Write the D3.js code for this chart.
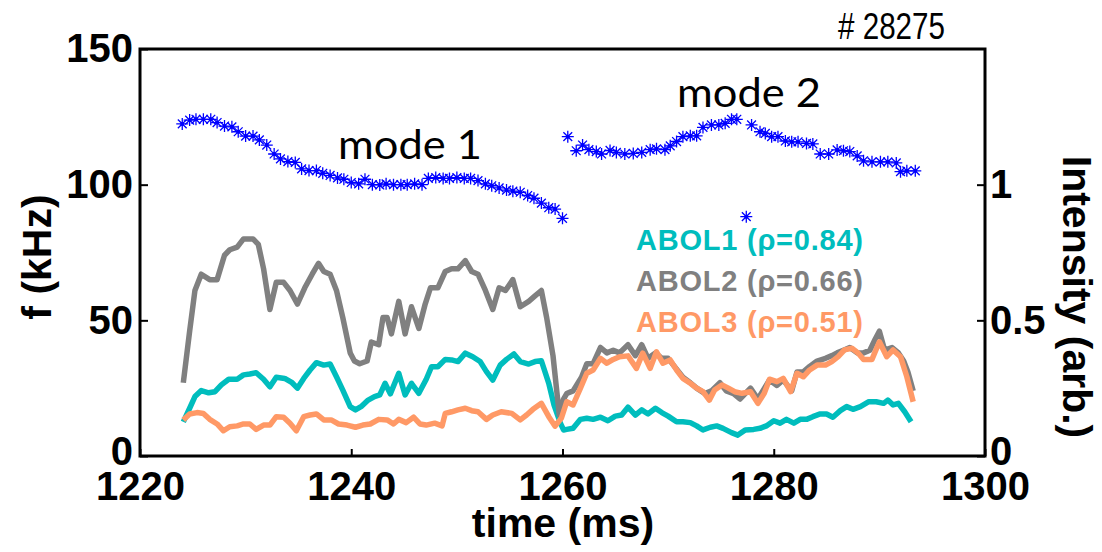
<!DOCTYPE html>
<html>
<head>
<meta charset="utf-8">
<script src="https://cdn.jsdelivr.net/npm/d3@7"></script>
<style>
  html, body { margin: 0; padding: 0; background: #fff; }
  svg { display: block; }
</style>
</head>
<body>
<svg id="chart" width="1102" height="552"></svg>
<script>
// ---------------- data ----------------
const xTicks = [1220, 1240, 1260, 1280, 1300];
const yTicksLeft = [0, 50, 100, 150];
const yTicksRight = [0, 0.5, 1];

// mode frequencies (kHz)
const mode1Time = [1224.0,1224.7,1225.3,1226.0,1226.7,1227.3,1228.0,1228.7,1229.3,1230.0,1230.7,1231.3,1232.0,1232.7,1233.3,1234.0,1234.7,1235.3,1236.0,1236.7,1237.3,1238.0,1238.7,1239.3,1240.0,1240.7,1241.3,1242.0,1242.7,1243.3,1244.0,1244.7,1245.3,1246.0,1246.7,1247.3,1248.0,1248.7,1249.3,1250.0,1250.7,1251.3,1252.0,1252.7,1253.3,1254.0,1254.7,1255.3,1256.0,1256.7,1257.3,1258.0,1258.7,1259.3,1260.0];
const mode1Freq = [122.4,123.8,124.1,124.1,124.1,122.9,121.6,121.3,119.5,117.9,117.9,116.5,114.6,111.3,109.5,108.5,108.2,105.8,105.2,105.2,104.2,103.4,102.5,102.0,100.8,100.3,102.0,100.0,99.9,100.3,100.0,100.0,100.0,100.3,100.0,102.3,102.6,102.3,102.3,102.6,102.3,102.3,101.5,100.3,99.6,98.8,98.0,97.6,97.2,96.0,95.0,93.2,91.5,91.0,87.6];
const mode2Time = [1260.5,1261.3,1261.9,1262.5,1263.2,1263.7,1264.5,1265.1,1265.9,1266.7,1267.5,1268.3,1268.9,1269.7,1270.2,1270.8,1271.4,1272.1,1272.7,1273.3,1274.1,1274.8,1275.4,1276.0,1276.5,1277.4,1277.9,1278.7,1279.2,1279.8,1280.4,1281.1,1281.7,1282.3,1283.1,1283.7,1284.4,1285.2,1286.0,1286.6,1287.2,1287.9,1288.5,1289.3,1290.1,1290.8,1291.6,1292.0,1292.6,1293.4];
const mode2Freq = [117.7,112.5,114.6,112.9,112.2,111.3,112.6,111.9,111.3,111.5,111.9,112.9,113.2,112.9,114.3,115.9,117.7,118.0,118.0,121.1,122.0,122.0,122.6,124.1,124.1,88.2,122.0,119.5,118.9,117.7,117.7,116.1,115.8,115.8,115.2,115.0,111.3,111.3,112.8,112.5,112.2,110.6,108.8,108.4,108.4,108.4,108.0,104.8,105.1,105.1];

// bolometer intensities (arb.)
const abol1Time = [1224.1,1224.7,1225.2,1225.8,1226.5,1227.1,1227.7,1228.4,1229.2,1229.8,1230.4,1231.0,1231.7,1232.3,1232.9,1233.7,1234.4,1234.9,1235.5,1236.1,1236.7,1237.4,1238.0,1238.6,1239.2,1239.9,1240.4,1241.0,1241.6,1242.2,1242.7,1243.2,1243.7,1244.5,1245.1,1245.7,1246.4,1247.1,1247.6,1248.2,1248.9,1249.5,1250.1,1250.8,1251.5,1252.2,1252.8,1253.4,1254.1,1254.7,1255.4,1256.0,1256.8,1257.4,1258.0,1258.7,1259.2,1259.8,1260.1,1260.4,1261.0,1261.7,1262.3,1262.9,1263.6,1264.3,1265.0,1265.6,1266.2,1266.9,1267.5,1268.1,1268.8,1269.4,1270.0,1270.8,1271.4,1272.1,1272.7,1273.3,1274.0,1274.6,1275.2,1276.0,1276.6,1277.3,1278.1,1278.7,1279.3,1280.0,1280.6,1281.2,1281.9,1282.5,1283.1,1283.7,1284.4,1285.0,1285.6,1286.3,1286.9,1287.5,1288.2,1289.0,1289.7,1290.4,1290.8,1291.3,1291.8,1292.4,1293.0];
const abol1Val = [0.126,0.176,0.219,0.241,0.233,0.237,0.262,0.283,0.283,0.299,0.302,0.307,0.283,0.255,0.290,0.286,0.270,0.250,0.286,0.317,0.344,0.335,0.339,0.292,0.243,0.182,0.170,0.184,0.206,0.219,0.225,0.268,0.229,0.305,0.225,0.268,0.231,0.283,0.329,0.329,0.356,0.354,0.348,0.379,0.366,0.348,0.311,0.280,0.335,0.356,0.376,0.348,0.339,0.348,0.351,0.268,0.188,0.121,0.096,0.098,0.102,0.135,0.139,0.135,0.143,0.130,0.147,0.151,0.180,0.151,0.170,0.155,0.176,0.160,0.147,0.126,0.126,0.123,0.111,0.096,0.106,0.111,0.102,0.086,0.077,0.096,0.098,0.102,0.111,0.130,0.121,0.135,0.121,0.135,0.135,0.145,0.155,0.155,0.143,0.167,0.182,0.172,0.182,0.200,0.200,0.194,0.206,0.188,0.194,0.163,0.126];

const abol2Time = [1224.1,1224.7,1225.2,1225.8,1226.6,1227.3,1228.0,1228.5,1229.2,1229.8,1230.7,1231.2,1231.7,1232.3,1232.9,1233.6,1234.2,1234.9,1235.6,1236.3,1236.9,1237.4,1238.0,1238.6,1239.2,1239.9,1240.3,1240.8,1241.5,1241.9,1242.6,1243.0,1243.4,1243.8,1244.5,1245.1,1245.7,1246.4,1247.0,1247.5,1248.2,1248.9,1249.5,1250.1,1250.8,1251.4,1252.0,1252.7,1253.4,1254.0,1254.6,1255.3,1256.0,1256.8,1257.4,1258.0,1258.5,1259.1,1259.7,1260.1,1260.4,1261.0,1261.8,1262.3,1262.9,1263.6,1264.2,1264.8,1265.4,1266.2,1266.9,1267.5,1268.1,1268.8,1269.4,1270.0,1270.8,1271.4,1272.1,1272.7,1273.5,1274.1,1274.9,1275.5,1276.2,1276.8,1277.8,1278.5,1279.6,1280.3,1280.9,1281.7,1282.2,1282.8,1283.4,1284.1,1284.9,1285.5,1286.0,1286.6,1287.2,1287.9,1288.5,1289.1,1289.6,1290.0,1290.5,1291.2,1291.8,1292.3,1292.7,1293.2];
const abol2Val = [0.27,0.46,0.61,0.67,0.65,0.65,0.74,0.76,0.77,0.80,0.80,0.78,0.69,0.54,0.64,0.64,0.61,0.56,0.62,0.67,0.71,0.68,0.67,0.61,0.51,0.38,0.35,0.34,0.35,0.42,0.41,0.51,0.51,0.45,0.57,0.45,0.55,0.47,0.56,0.62,0.62,0.68,0.69,0.69,0.72,0.68,0.67,0.61,0.54,0.62,0.61,0.65,0.55,0.57,0.59,0.61,0.51,0.37,0.15,0.21,0.23,0.24,0.29,0.34,0.34,0.40,0.38,0.39,0.38,0.41,0.37,0.41,0.36,0.38,0.36,0.36,0.32,0.29,0.27,0.25,0.23,0.24,0.27,0.24,0.23,0.21,0.25,0.21,0.28,0.26,0.28,0.24,0.31,0.31,0.33,0.35,0.36,0.37,0.38,0.39,0.40,0.38,0.38,0.39,0.43,0.46,0.39,0.40,0.38,0.35,0.31,0.24];

const abol3Time = [1224.1,1224.7,1225.4,1226.0,1226.6,1227.3,1227.9,1228.5,1229.2,1229.8,1230.4,1231.0,1231.7,1232.3,1232.9,1233.6,1234.2,1234.8,1235.5,1236.1,1236.7,1237.4,1238.1,1238.8,1239.6,1240.4,1241.1,1241.8,1242.6,1243.4,1244.0,1244.5,1245.2,1245.9,1246.5,1247.1,1247.9,1248.6,1248.9,1249.5,1250.1,1250.8,1251.4,1252.0,1252.8,1253.4,1254.2,1255.2,1256.0,1256.6,1257.2,1258.0,1258.7,1259.3,1259.9,1260.4,1261.0,1261.7,1262.3,1262.9,1263.6,1264.2,1264.8,1265.4,1266.2,1267.0,1267.6,1268.3,1268.9,1269.5,1270.2,1270.8,1271.4,1272.1,1272.7,1273.3,1273.9,1274.4,1275.1,1275.7,1276.3,1277.0,1277.8,1278.5,1279.1,1279.6,1280.3,1280.9,1281.6,1282.2,1282.8,1283.4,1284.1,1284.9,1285.5,1286.1,1286.7,1287.4,1288.0,1288.5,1289.3,1290.0,1290.7,1291.3,1292.0,1292.6,1293.2];
const abol3Val = [0.133,0.155,0.160,0.157,0.135,0.118,0.093,0.108,0.111,0.118,0.118,0.098,0.114,0.114,0.145,0.143,0.121,0.093,0.145,0.151,0.155,0.133,0.133,0.118,0.114,0.106,0.114,0.118,0.135,0.133,0.118,0.135,0.123,0.143,0.118,0.114,0.121,0.111,0.157,0.163,0.170,0.176,0.167,0.163,0.135,0.151,0.163,0.157,0.133,0.151,0.172,0.194,0.145,0.110,0.140,0.200,0.188,0.250,0.305,0.317,0.360,0.342,0.356,0.366,0.369,0.323,0.379,0.323,0.384,0.342,0.354,0.317,0.286,0.268,0.250,0.237,0.206,0.243,0.262,0.250,0.237,0.231,0.237,0.194,0.231,0.283,0.274,0.286,0.237,0.305,0.292,0.317,0.335,0.335,0.348,0.366,0.391,0.397,0.379,0.356,0.356,0.421,0.366,0.391,0.366,0.292,0.200];

const seriesNames = ["ABOL1", "ABOL2", "ABOL3"];
const seriesRho = ["0.84", "0.66", "0.51"];
const seriesColors = ["#00BDBD", "#808080", "#FF9966"];

// ---------------- drawing ----------------
const svg = d3.select("#chart");
const boldFont = "'Liberation Sans', Arial, sans-serif";
const lightFont = "Lato, 'Open Sans', sans-serif";

const x = d3.scaleLinear().domain([1220, 1300]).range([140, 985]);
const y = d3.scaleLinear().domain([0, 150]).range([456, 49]);
const yR = d3.scaleLinear().domain([0, 1.5]).range([456, 49]);

svg.append("rect").attr("width", 1102).attr("height", 552).attr("fill", "#fff");

// lines (intensity, right axis)
const line = d3.line().x(d => x(d[0])).y(d => yR(d[1])).curve(d3.curveLinear);
const lineData = [d3.zip(abol1Time, abol1Val), d3.zip(abol2Time, abol2Val), d3.zip(abol3Time, abol3Val)];
lineData.forEach((pts, i) => {
  svg.append("path")
    .attr("d", line(pts))
    .attr("fill", "none")
    .attr("stroke", seriesColors[i])
    .attr("stroke-width", 5.5)
    .attr("stroke-linejoin", "round")
    .attr("stroke-linecap", "butt");
});

// mode markers (asterisks)
const starPath = "M-6,0H6M0,-6V6M-4.4,-4.4L4.4,4.4M-4.4,4.4L4.4,-4.4";
const modePts = d3.zip(mode1Time, mode1Freq).concat(d3.zip(mode2Time, mode2Freq));
const stars = svg.append("g").selectAll("g").data(modePts).join("g")
  .attr("transform", d => `translate(${x(d[0])},${y(d[1])})`);
stars.append("path").attr("d", starPath).attr("stroke", "#0000FF").attr("stroke-width", 1.3).attr("fill", "none");
stars.append("circle").attr("r", 2).attr("fill", "#0000FF");

// axes
const axB = svg.append("g").attr("transform", "translate(0,456)")
  .call(d3.axisBottom(x).tickValues(xTicks).tickFormat(d3.format("d")).tickSizeInner(-7).tickSizeOuter(0).tickPadding(16));
const axL = svg.append("g").attr("transform", "translate(140,0)")
  .call(d3.axisLeft(y).tickValues(yTicksLeft).tickFormat(d3.format("d")).tickSizeInner(-8).tickSizeOuter(0).tickPadding(7));
const axR = svg.append("g").attr("transform", "translate(985,0)")
  .call(d3.axisRight(yR).tickValues(yTicksRight).tickFormat(d3.format("~g")).tickSizeInner(-8).tickSizeOuter(0).tickPadding(5));
[axB, axL, axR].forEach(g => {
  g.select(".domain").remove();
  g.selectAll(".tick line").attr("stroke", "#000").attr("stroke-width", 2);
  g.selectAll(".tick text").attr("fill", "#000")
    .style("font-family", boldFont).style("font-weight", "bold").style("font-size", "40px");
});
// the zero labels sit slightly above the axis line, as in the reference
axL.selectAll(".tick text").filter(d => d === 0).attr("dy", "0.2em");
axR.selectAll(".tick text").filter(d => d === 0).attr("dy", "0.2em");

// frame
svg.append("rect").attr("x", 140).attr("y", 49).attr("width", 845).attr("height", 407)
  .attr("fill", "none").attr("stroke", "#000").attr("stroke-width", 3);

// axis titles
svg.append("text").attr("transform", "translate(51,257) rotate(-90)")
  .attr("text-anchor", "middle").style("font-family", boldFont).style("font-weight", "bold").style("font-size", "41px")
  .text("f (kHz)");
svg.append("text").attr("transform", "translate(1063,297) rotate(90)")
  .attr("text-anchor", "middle").style("font-family", boldFont).style("font-weight", "bold").style("font-size", "41px")
  .text("Intensity (arb.)");
svg.append("text").attr("x", 563).attr("y", 537)
  .attr("text-anchor", "middle").style("font-family", boldFont).style("font-weight", "bold").style("font-size", "41px")
  .text("time (ms)");

// annotations
svg.append("text").attr("x", 838).attr("y", 39).style("font-family", "'Liberation Sans', Arial, sans-serif").style("font-size", "37px")
  .attr("textLength", 107).attr("lengthAdjust", "spacingAndGlyphs").text("# 28275");
svg.append("text").attr("x", 338).attr("y", 159).style("font-family", lightFont).style("font-size", "41px")
  .attr("textLength", 144).attr("lengthAdjust", "spacingAndGlyphs").text("mode 1");
svg.append("text").attr("x", 677).attr("y", 107).style("font-family", lightFont).style("font-size", "41px")
  .attr("textLength", 144).attr("lengthAdjust", "spacingAndGlyphs").text("mode 2");

// legend texts
seriesNames.forEach((n, i) => {
  svg.append("text").attr("x", 636).attr("y", 250 + i * 41)
    .attr("fill", seriesColors[i])
    .style("font-family", boldFont).style("font-weight", "bold").style("font-size", "29px")
    .attr("textLength", 227).attr("lengthAdjust", "spacing")
    .text(`${n} (ρ=${seriesRho[i]})`);
});
</script>
</body>
</html>
